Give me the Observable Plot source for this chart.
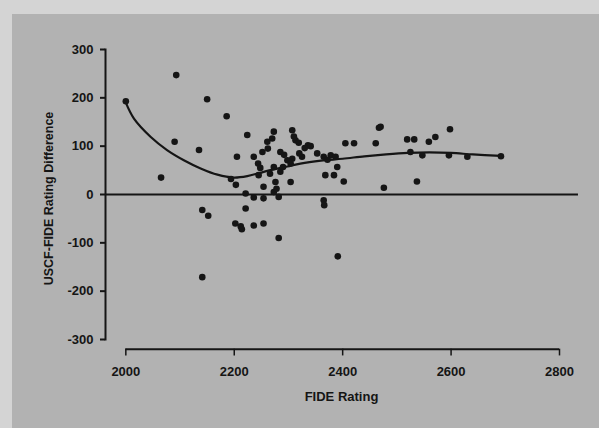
<!DOCTYPE html>
<html>
<head>
<meta charset="utf-8">
<script src="https://cdn.jsdelivr.net/npm/d3@7"></script>
<script src="https://cdn.jsdelivr.net/npm/@observablehq/plot@0.6"></script>
<style>
  html, body { margin: 0; padding: 0; background: #b2b2b2; }
  #chart svg { display: block; background: #b2b2b2; box-shadow: inset 12px 14px 0 #d4d4d4; }
</style>
</head>
<body>
<div id="chart"></div>
<script>
// FIDE rating of each player
const fideRating = [
  2000, 2093, 2150, 2186, 2090, 2135, 2065, 2141, 2152, 2141,
  2224, 2205, 2203, 2221, 2236, 2254, 2273, 2282, 2221, 2202,
  2212, 2236, 2254, 2282, 2273, 2307, 2313, 2319, 2336, 2341,
  2261, 2236, 2252, 2244, 2285, 2298, 2307, 2325, 2353, 2365,
  2378, 2285, 2273, 2266, 2276, 2304, 2290, 2304, 2368, 2384,
  2390, 2387, 2402, 2365, 2366, 2391, 2405, 2421, 2467, 2461,
  2476, 2519, 2532, 2525, 2547, 2537, 2559, 2571, 2598, 2596,
  2630, 2692, 2320, 2245, 2254, 2194, 2262, 2270, 2292, 2330,
  2372, 2278, 2248, 2310, 2470, 2214
];
// USCF minus FIDE rating difference for each player
const ratingDiff = [
   193,  247,  197,  162,  109,   92,   35,  -32,  -44, -171,
   123,   78,   20,    2,   -6,   -8,    5,   -5,  -29,  -60,
   -66,  -64,  -60,  -90,  130,  133,  112,  107,  102,  100,
   109,   78,   88,   64,   88,   71,   74,   78,   85,   78,
    81,   47,   57,   43,   26,   26,   57,   64,   40,   40,
    57,   78,   27,  -12,  -22, -128,  106,  106,  138,  106,
    14,  114,  114,   88,   81,   27,  109,  119,  135,   81,
    78,   79,   85,   40,   16,   32,   95,  116,   82,   96,
    72,   12,   55,  120,  140,  -72
];
// smoothed (loess) fit
const fitX = [2000, 2015, 2046, 2076, 2107, 2138, 2169, 2199, 2224, 2248, 2273, 2298, 2322, 2360, 2400, 2440, 2480, 2520, 2560, 2600, 2640, 2692];
const fitY = [ 190,  157,  119,   92,   71,   54,   41,   35,   38,   45,   52,   58,   64,   70,   74,   79,   83,   86,   87,   86,   83,   80];

const xTicks = [2000, 2200, 2400, 2600, 2800];
const yTicks = [-300, -200, -100, 0, 100, 200, 300];

const points = fideRating.map((x, i) => ({x, y: ratingDiff[i]}));
const fit = fitX.map((x, i) => ({x, y: fitY[i]}));

const ink = "#151515";
const font = "'Liberation Sans', Arial, Helvetica, sans-serif";

const chart = Plot.plot({
  width: 599,
  height: 428,
  marginLeft: 105,
  marginRight: 40,
  marginTop: 49,
  marginBottom: 89,
  x: {domain: [1962.5, 2800], axis: null},
  y: {domain: [-300, 300], axis: null},
  style: {background: "transparent", fontFamily: font, fontSize: "13px", fontWeight: "bold", color: ink},
  marks: [
    Plot.frame({anchor: "left", stroke: ink, strokeWidth: 2}),
    Plot.axisY(yTicks, {anchor: "left", label: null, tickSize: 5, tickPadding: 7, strokeWidth: 2, stroke: ink, fill: ink, fontSize: 13, tickFormat: d => String(d)}),
    Plot.ruleY([0], {x1: 1962.5, x2: 2835, stroke: ink, strokeWidth: 2}),
    Plot.ruleY([-320], {x1: 2000, x2: 2800, stroke: ink, strokeWidth: 2}),
    Plot.ruleX(xTicks, {y1: -320, y2: -334, stroke: ink, strokeWidth: 1.5}),
    Plot.text(xTicks, {x: d => d, y: -367, text: d => String(d), fill: ink, fontSize: 13}),
    Plot.text(["USCF-FIDE Rating Difference"], {frameAnchor: "left", textAnchor: "middle", lineAnchor: "middle", dx: -57, dy: 4, rotate: -90, fill: ink, fontSize: 12.5}),
    Plot.text(["FIDE Rating"], {frameAnchor: "bottom", textAnchor: "middle", lineAnchor: "middle", dx: 9, dy: 57, fill: ink, fontSize: 13}),
    Plot.line(fit, {x: "x", y: "y", curve: "catmull-rom", stroke: ink, strokeWidth: 2.2}),
    Plot.dot(points, {x: "x", y: "y", r: 3.3, fill: ink, stroke: "none"})
  ]
});
document.getElementById("chart").appendChild(chart);
</script>
</body>
</html>
